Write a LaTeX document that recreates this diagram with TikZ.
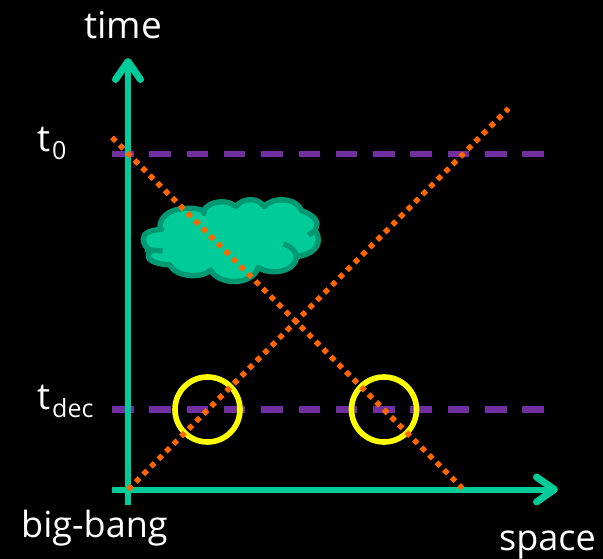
\documentclass[tikz,border=0pt]{standalone}
\usepackage{fontspec}
\setmainfont{Open Sans}
\usetikzlibrary{arrows.meta}
\definecolor{axisgreen}{HTML}{00CC99}
\definecolor{clouddark}{HTML}{009973}
\definecolor{dashpurple}{HTML}{7030A0}
\definecolor{dotorange}{HTML}{FF6600}
\definecolor{ringyellow}{HTML}{FFFF00}
\tikzset{
  axisline/.style={draw=axisgreen,line width=6pt,-{Straight Barb[length=18pt,width=25pt,round,line width=7pt]}},
  epochline/.style={draw=dashpurple,line width=6.2pt,dash pattern=on 21.5pt off 15.8pt},
  lightray/.style={draw=dotorange,line width=5.4pt,dash pattern=on 5.4pt off 5.28pt},
  ring/.style={draw=ringyellow,line width=5.6pt},
  cloudbody/.style={fill=axisgreen,draw=clouddark,line width=5.4pt,line join=round},
  cloudcrease/.style={draw=clouddark,line width=5.4pt},
  label/.style={text=white,inner sep=0pt,anchor=base west,font=\fontsize{37}{37}\selectfont},
  sublabel/.style={text=white,inner sep=0pt,anchor=base west,font=\fontsize{25}{25}\selectfont},
}
\begin{document}
\begin{tikzpicture}[x=1pt,y=-1pt]
\useasboundingbox (0,0) rectangle (603,559);
\fill[black] (0,0) rectangle (603,559);
% cloud, traced in 3x zoom coordinates
\begin{scope}[shift={(120,180)},x=0.3333pt,y=-0.3333pt]
\path[cloudbody] (125,148)
 .. controls (90,150) and (68,160) .. (70,178)
 .. controls (70,195) and (80,205) .. (95,212)
 .. controls (75,225) and (78,250) .. (150,255)
 .. controls (165,290) and (245,298) .. (272,270)
 .. controls (295,315) and (395,320) .. (415,262)
 .. controls (445,285) and (525,280) .. (530,230)
 .. controls (575,225) and (615,195) .. (585,150)
 .. controls (600,125) and (585,108) .. (545,92)
 .. controls (530,52) and (455,50) .. (433,80)
 .. controls (415,52) and (368,52) .. (348,80)
 .. controls (325,58) and (270,60) .. (250,92)
 .. controls (205,75) and (115,85) .. (120,148) -- cycle;
\path[cloudcrease] (75,208) .. controls (90,211) and (110,212) .. (128,212);
\path[cloudcrease] (565,166) -- (586,151);
\path[cloudcrease] (490,192) .. controls (512,198) and (530,215) .. (530,232);
\path[cloudcrease] (245,95) -- (258,103);
\end{scope}
% coordinates
\coordinate (vbot) at (128,505);
\coordinate (vtop) at (128,58);
\coordinate (hleft) at (112,489.5);
\coordinate (hright) at (558,489.5);
\coordinate (az) at (112,154);
\coordinate (bz) at (546,154);
\coordinate (ad) at (112,409.5);
\coordinate (bd) at (546,409.5);
\coordinate (ra) at (112,137.4);
\coordinate (rb) at (462.5,488.4);
\coordinate (sa) at (128.2,489.5);
\coordinate (sb) at (508.5,108.5);
% epochs and axes
\path[epochline] (az) -- (bz);
\path[epochline] (ad) -- (bd);
\path[axisline] (vbot) -- (vtop);
\path[axisline] (hleft) -- (hright);
% rings
\node[ring,circle,minimum size=65pt,inner sep=0pt] (ring1) at (207.5,409.5) {};
\node[ring,circle,minimum size=65pt,inner sep=0pt] (ring2) at (384,409.5) {};
% rays
\path[lightray] (ra) -- (rb);
\path[lightray] (sa) -- (sb);
% labels
\node[label] (time) at (84,39) {time};
\node[label] (t0) at (37,152) {t};
\node[sublabel] (t0s) at (52,160) {0};
\node[label] (tdec) at (37,409) {t};
\node[sublabel] (tdecs) at (52,417) {dec};
\node[label,font=\fontsize{36}{36}\selectfont] (bb) at (21,537) {big-bang};
\node[label,font=\fontsize{36}{36}\selectfont] (sp) at (499,550) {space};
\end{tikzpicture}
\end{document}
